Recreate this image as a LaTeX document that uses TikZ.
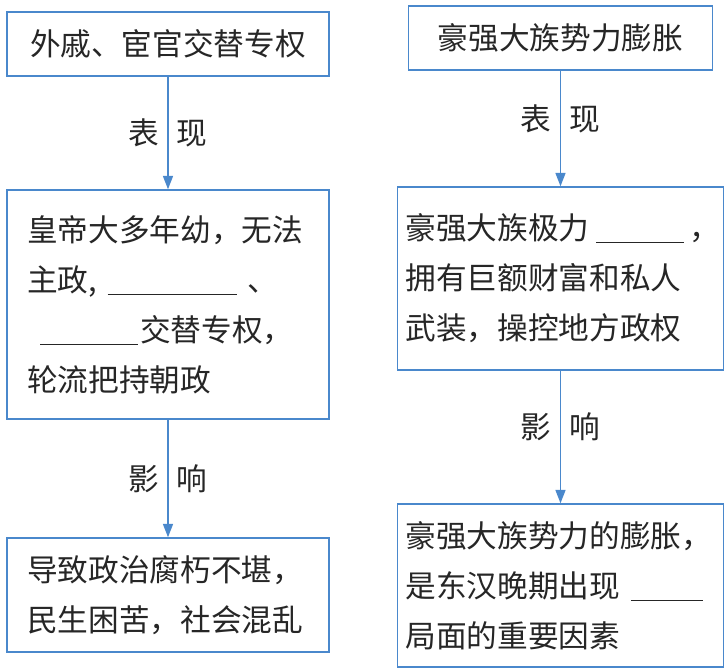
\documentclass[tikz,border=0pt]{standalone}
\usepackage{fontspec}
\usepackage{tikz}
\usetikzlibrary{arrows.meta,positioning}
\newfontfamily\cjk{Noto Sans CJK SC}
\definecolor{FrameBlue}{HTML}{4A88CC}
\definecolor{InkGrey}{HTML}{262626}
\newcommand{\blank}[1]{\rule[-2.5pt]{#1}{0.7pt}}

\begin{document}
\begin{tikzpicture}[x=0.75pt,y=-0.75pt,
        box/.style={draw=FrameBlue,line width=1.1pt,inner xsep=15pt,inner ysep=0pt,fill=white,
                    font=\cjk\fontsize{23}{37.5}\selectfont,text=InkGrey,align=left},
        arr/.style={draw=FrameBlue,line width=1.1pt,-{Triangle[length=10pt,width=7.5pt]}},
        lbl/.style={font=\cjk\fontsize{23}{28}\selectfont,text=InkGrey,inner sep=0pt}]
      \useasboundingbox (0,0) rectangle (725,670);
      % left column
      \node[box,align=center,minimum width=241.5pt,minimum height=48pt] (power) at (168,44) {外戚、宦官交替专权};
      \node[box,text width=211.5pt,minimum height=171.75pt] (emperor) at (168,304.5)
        {皇帝大多年幼，无法\\\mbox{主政,\hspace{8pt}\blank{97pt}\hspace{8pt}、}\\\mbox{\hspace{10pt}\blank{73pt}\hspace{2pt}交替专权，}\\轮流把持朝政};
      \node[box,text width=211.5pt,minimum height=85.5pt] (chaos) at (168,595)
        {导致政治腐朽不堪，\\民生困苦，社会混乱};
      % right column
      \node[box,align=center,minimum width=228pt,minimum height=48pt] (clans) at (560.5,38) {豪强大族势力膨胀};
      \node[box,inner xsep=6pt,text width=232.5pt,minimum height=137.25pt] (wealth) at (560.5,278.5)
        {\mbox{豪强大族极力\hspace{5pt}\blank{66pt}\hspace{4pt}，}\\拥有巨额财富和私人\\武装，操控地方政权};
      \node[box,inner xsep=6pt,text width=232.5pt,minimum height=122.25pt] (split) at (560.5,585.5)
        {豪强大族势力的膨胀，\\\mbox{是东汉晚期出现\hspace{8pt}\blank{54pt}}\\局面的重要因素};
      \draw[arr] (power)   -- node[lbl,pos=0.5]  {表\hspace{0.58em}现} (emperor);
      \draw[arr] (emperor) -- node[lbl,pos=0.5]  {影\hspace{0.58em}响} (chaos);
      \draw[arr] (clans)   -- node[lbl,pos=0.42] {表\hspace{0.58em}现} (wealth);
      \draw[arr] (wealth)  -- node[lbl,pos=0.42] {影\hspace{0.58em}响} (split);
    \end{tikzpicture}
\end{document}
